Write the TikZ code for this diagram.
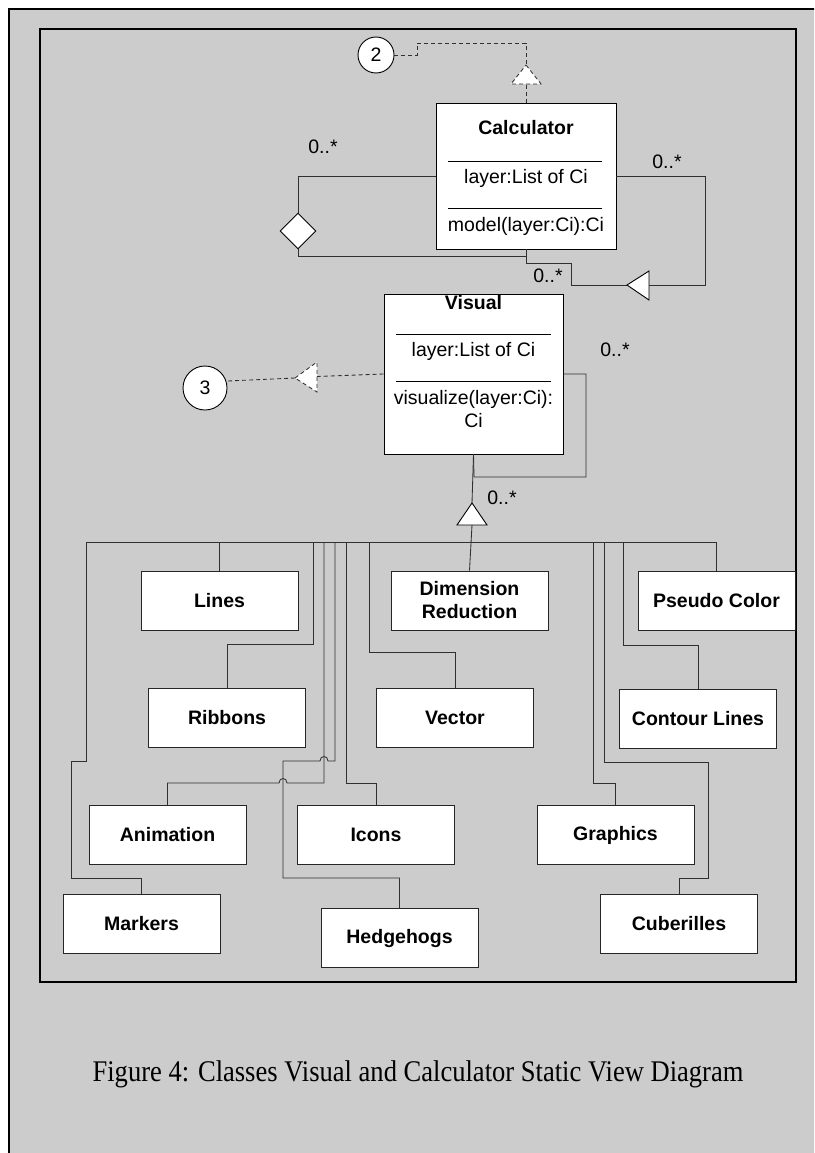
\documentclass[tikz,border=0pt]{standalone}
\usepackage{fontspec}
\setmainfont{Liberation Sans}
\newfontfamily\capfont{Liberation Serif}
\usetikzlibrary{shapes.geometric}
\definecolor{panel}{HTML}{CCCCCC}
\definecolor{wirecol}{HTML}{303030}
\begin{document}
\begin{tikzpicture}[x=1pt,y=-1pt,
  every node/.style={font=\fontsize{19.5}{23}\selectfont},
  frameline/.style={draw=black, line width=2pt},
  classbox/.style={draw=black, line width=0.85pt, fill=white, inner sep=0pt},
  leafbox/.style={draw=black!85, line width=0.85pt, fill=white, minimum width=157pt,
    minimum height=59pt, inner sep=0pt, align=center,
    font=\fontsize{19.5}{23}\selectfont\bfseries},
  classtext/.style={inner sep=0pt, align=center},
  sepline/.style={draw=black, line width=0.7pt},
  wire/.style={draw=wirecol, line width=0.85pt},
  dashwire/.style={draw=wirecol, line width=0.85pt, dash pattern=on 4pt off 3pt},
  refcircle/.style={circle, draw=black, line width=0.9pt, fill=white, inner sep=0pt},
  mult/.style={inner sep=0pt}
]
\useasboundingbox (0,0) rectangle (814,1153);
\clip (0,0) rectangle (814,1153);

% page background and frames
\fill[panel] (9,9) rectangle (830,1170);
\draw[frameline] (9,1170) -- (9,9) -- (830,9);
\draw[frameline] (40,29) rectangle (796,982);

% ---------- Calculator ----------
\node[classbox, minimum width=180pt, minimum height=146pt] (calc) at (526,176) {};
\node[classtext] (calcname) at (526,128) {\bfseries Calculator};
\draw[sepline] (448,161) -- (602,161);
\node[classtext] (calcattr) at (526,178) {layer:List of Ci};
\draw[sepline] (448,208) -- (602,208);
\node[classtext] (calcop) at (526,226) {model(layer:Ci):Ci};

% interface reference 2 (realization)
\node[refcircle, minimum size=36pt] (ref2) at (376,55) {2};
\coordinate (r2tip) at (526,65);
\coordinate (r2base) at (526,84);
\draw[dashwire, fill=white] (r2tip) -- (541,84) -- (511,84) -- cycle;
\draw[dashwire] (calc.north) -- (r2base);
\draw[dashwire] (ref2.east) -- (417,55) -- (417,43) -- (526,43) -- (r2tip);

% aggregation loop on the left
\node[diamond, draw=black, line width=0.9pt, fill=white, minimum width=36pt,
  minimum height=36pt, inner sep=0pt] (agg) at (298,231) {};
\draw[wire] (calc.west) -- (298,176) -- (agg.north);
\draw[wire] (agg.south) -- (298,256) -- (526,256);
\node[mult] (m1) at (323,147) {0..*};

% generalization loop on the right
\coordinate (g1tip) at (627,285);
\coordinate (g1base) at (649,285);
\draw[wire] (calc.south) -- (526,263) -- (571,263) -- (571,285) -- (g1tip);
\draw[draw=black, line width=0.9pt, fill=white] (g1tip) -- (649,271) -- (649,300) -- cycle;
\draw[wire] (g1base) -- (705,285) -- (705,176) -- (calc.east);
\node[mult] (m2) at (667,162) {0..*};
\node[mult] (m3) at (548,276) {0..*};

% ---------- Visual ----------
\node[classbox, minimum width=179pt, minimum height=160pt] (vis) at (473.5,374) {};
\node[classtext] (visname) at (473.5,303) {\bfseries Visual};
\draw[sepline] (396,334) -- (551,334);
\node[classtext] (visattr) at (473.5,351) {layer:List of Ci};
\draw[sepline] (396,381) -- (551,381);
\node[classtext] (visop) at (473.5,409) {visualize(layer:Ci):\\Ci};

% interface reference 3 (realization)
\node[refcircle, minimum size=44pt] (ref3) at (205,388) {3};
\coordinate (r3tip) at (295,378);
\coordinate (r3base) at (317,376.5);
\draw[dashwire, fill=white] (r3tip) -- (317,362) -- (317,392) -- cycle;
\draw[dashwire] (vis.west) -- (r3base);
\draw[dashwire] (r3tip) -- (ref3.18);

% self association
\draw[wire] (vis.east) -- (586,374) -- (586,477) -- (474,477) -- (vis.south);
\node[mult] (m4) at (615,350) {0..*};
\node[mult] (m5) at (502,498) {0..*};

% generalization to the leaf classes
\coordinate (g2tip) at (472,503);
\coordinate (g2base) at (472,525);
\draw[wire] (vis.south) -- (g2tip);
\draw[draw=black, line width=0.9pt, fill=white] (g2tip) -- (487,525) -- (457,525) -- cycle;

% ---------- leaf classes ----------
\node[leafbox] (lines)      at (219.5,600.5) {Lines};
\node[leafbox] (dim)        at (469.5,600.5) {Dimension\\Reduction};
\node[leafbox] (pseudo)     at (716.5,601)   {Pseudo Color};
\node[leafbox] (ribbons)    at (227,717.5)   {Ribbons};
\node[leafbox] (vector)     at (455,717.5)   {Vector};
\node[leafbox] (contour)    at (698,718.5)   {Contour Lines};
\node[leafbox] (animation)  at (167.5,835)   {Animation};
\node[leafbox] (icons)      at (376,835)     {Icons};
\node[leafbox] (graphics)   at (615.5,835)   {Graphics};
\node[leafbox] (markers)    at (141.5,923.5) {Markers};
\node[leafbox] (hedgehogs)  at (399.5,938)   {Hedgehogs};
\node[leafbox] (cuberilles) at (679,923.5)   {Cuberilles};

% common bus
\coordinate (busL) at (86,542);
\coordinate (busR) at (717,542);
\draw[wire] (busL) -- (busR);
\draw[wire] (g2base) -- (dim.north);

% branches
\draw[wire] (86,542) -- (86,761) -- (71,761) -- (71,878) -- (141.5,878) -- (markers.north);
\draw[wire] (219.5,542) -- (lines.north);
\draw[wire] (313,542) -- (313,644) -- (227,644) -- (ribbons.north);
\draw[wire] (324,542) -- (324,783) -- (287,783)
  .. controls (287,777) and (279,777) .. (279,783) -- (167.5,783) -- (animation.north);
\draw[wire] (335,542) -- (335,761) -- (328,761)
  .. controls (328,755) and (320,755) .. (320,761) -- (283,761) -- (283,878)
  -- (399.5,878) -- (hedgehogs.north);
\draw[wire] (346,542) -- (346,783) -- (376,783) -- (icons.north);
\draw[wire] (369,542) -- (369,652) -- (455,652) -- (vector.north);
\draw[wire] (593,542) -- (593,783) -- (615.5,783) -- (graphics.north);
\draw[wire] (604,542) -- (604,762) -- (708,762) -- (708,878) -- (679,878) -- (cuberilles.north);
\draw[wire] (623,542) -- (623,645) -- (698,645) -- (contour.north);
\draw[wire] (716.5,542) -- (pseudo.north);

% caption
\node[font=\capfont\fontsize{30}{34}\selectfont, xscale=0.885, inner sep=0pt] (caption)
  at (418,1074) {Figure 4: Classes Visual and Calculator Static View Diagram};
\end{tikzpicture}
\end{document}
